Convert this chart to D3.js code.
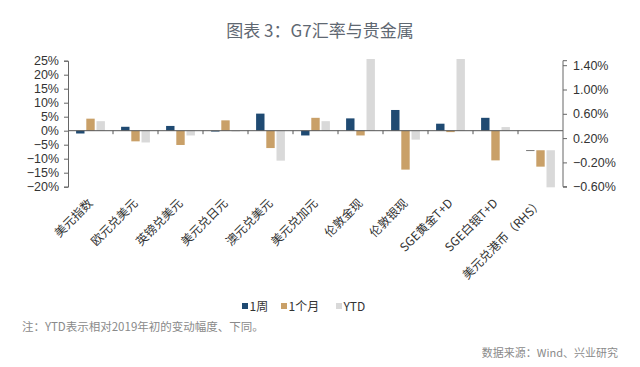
<!DOCTYPE html>
<html><head><meta charset="utf-8">
<script src="https://cdn.jsdelivr.net/npm/d3@7/dist/d3.min.js"></script>
<style>body{margin:0;background:#fff;}svg{display:block;}</style>
</head><body>
<script>
const categories = ["美元指数","欧元兑美元","英镑兑美元","美元兑日元","澳元兑美元","美元兑加元","伦敦金现","伦敦银现","SGE黄金T+D","SGE白银T+D","美元兑港币（RHS）"];
const seriesNames = ["1周","1个月","YTD"];
const week  = [-1.0, 1.4, 1.7, -0.3, 6.1, -1.7, 4.4, 7.4, 2.5, 4.6, -0.01];
const month = [4.3, -3.8, -5.1, 3.7, -6.2, 4.6, -1.7, -13.9, -0.5, -10.6, -0.27];
const ytd   = [3.4, -4.2, -1.7, -0.1, -10.7, 3.4, 25.6, -3.2, 25.6, 1.3, -0.61];
const leftTicks = [-20,-15,-10,-5,0,5,10,15,20,25];
const rightTicks = [-0.6,-0.2,0.2,0.6,1.0,1.4];
const colors = ["#1f4a72","#c9a068","#d9d9d9"];
const rhsIndex = 10;

const W = 640, H = 367;
const svg = d3.select("body").append("svg").attr("width", W).attr("height", H);

svg.append("text").attr("x", 320).attr("y", 37).attr("text-anchor","middle")
  .attr("font-family","'Noto Sans CJK SC', sans-serif").attr("font-size",17)
  .attr("fill","#5f6872").text("图表 3：G7汇率与贵金属");

const x = d3.scaleBand().domain(categories).range([68, 563]).padding(0);
const yL = d3.scaleLinear().domain([-20, 25]).range([186.7, 60.7]);
const yR = d3.scaleLinear().domain([-0.6, 1.4]).range([186.7, 65.2]);

const series = [week, month, ytd];
const barW = 8.4, step = 10.2;

const g = svg.append("g");
series.forEach((vals, j) => {
  g.selectAll(null).data(categories).enter().append("rect")
    .attr("x", (c) => x(c) + x.bandwidth()/2 + (j-1)*step - barW/2)
    .attr("y", (c,i) => { const s = i===rhsIndex ? yR : yL; return Math.min(s(vals[i]), s(0)); })
    .attr("width", barW)
    .attr("height", (c,i) => { const s = i===rhsIndex ? yR : yL; return Math.max(0.8, Math.abs(s(vals[i]) - s(0))); })
    .attr("fill", (c,i) => (i===rhsIndex && j===0) ? "#555" : colors[j]);
});

// zero line with category ticks
svg.append("line").attr("x1",68).attr("x2",563).attr("y1",yL(0)).attr("y2",yL(0))
  .attr("stroke","#555").attr("stroke-width",1);
svg.selectAll(null).data(categories.slice(1)).enter().append("line")
  .attr("x1",c=>x(c)).attr("x2",c=>x(c)).attr("y1",yL(0)).attr("y2",yL(0)+3.5)
  .attr("stroke","#555");

const fmt = d => (d<0?"−":"") + Math.abs(d) + "%";
const axL = svg.append("g").attr("transform","translate(68,0)")
  .call(d3.axisLeft(yL).tickValues(leftTicks).tickFormat(fmt).tickSize(4).tickPadding(5));
const fmtR = d => (d<0?"−":"") + Math.abs(d).toFixed(2) + "%";
const axR = svg.append("g").attr("transform","translate(563,0)")
  .call(d3.axisRight(yR).tickValues(rightTicks).tickFormat(fmtR).tickSize(4).tickPadding(6));
axR.select(".domain").attr("d","M4,60.7H0V186.7H4");
[axL, axR].forEach(a => {
  a.selectAll("path,line").attr("stroke","#666");
  a.selectAll("text").attr("font-family","'Liberation Sans', Arial, sans-serif")
   .attr("font-size",12.5).attr("fill","#333");
});

// x labels
svg.selectAll(null).data(categories).enter().append("text")
  .attr("transform", c => `translate(${x(c)+x.bandwidth()/2+3},${204}) rotate(-45)`)
  .attr("text-anchor","end")
  .attr("font-family","'Noto Sans CJK SC', sans-serif").attr("font-size",12)
  .attr("fill","#333").text(c=>c);

// legend
const legX = [242, 281, 336];
seriesNames.forEach((n,j) => {
  svg.append("rect").attr("x",legX[j]).attr("y",303).attr("width",6).attr("height",6).attr("fill",colors[j]);
  svg.append("text").attr("x",legX[j]+7.5).attr("y",310.5)
    .attr("font-family","'Noto Sans CJK SC', sans-serif").attr("font-size",12)
    .attr("fill","#333").text(n);
});

svg.append("text").attr("x",22).attr("y",331)
  .attr("font-family","'Noto Sans CJK SC', sans-serif").attr("font-size",11.5)
  .attr("fill","#8a8a8a").text("注：YTD表示相对2019年初的变动幅度、下同。");
svg.append("text").attr("x",618).attr("y",357).attr("text-anchor","end")
  .attr("font-family","'Noto Sans CJK SC', sans-serif").attr("font-size",11)
  .attr("fill","#8a8a8a").text("数据来源：Wind、兴业研究");
</script>
</body></html>
